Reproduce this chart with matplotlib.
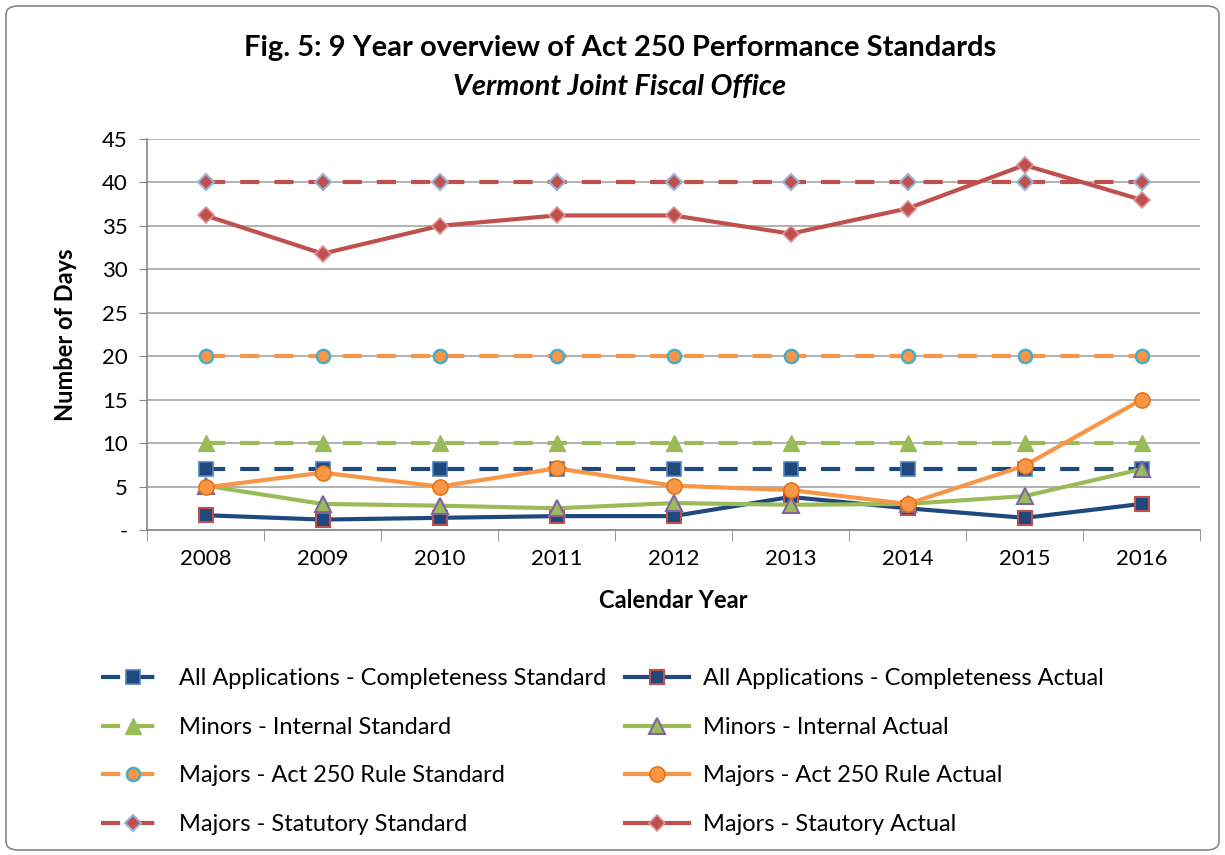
import numpy as np
import matplotlib.pyplot as plt
from matplotlib.patches import FancyBboxPatch
from matplotlib.ticker import FuncFormatter

plt.rcParams['font.family'] = ['Lato', 'DejaVu Sans']

years = ["2008", "2009", "2010", "2011", "2012", "2013", "2014", "2015", "2016"]

complete_std = [7, 7, 7, 7, 7, 7, 7, 7, 7]
complete_act = [1.7, 1.2, 1.4, 1.6, 1.6, 3.8, 2.5, 1.4, 3.0]
minors_std = [10, 10, 10, 10, 10, 10, 10, 10, 10]
minors_act = [5.1, 3.0, 2.8, 2.5, 3.1, 2.9, 3.0, 3.9, 7.0]
rule_std = [20, 20, 20, 20, 20, 20, 20, 20, 20]
rule_act = [4.9, 6.6, 5.0, 7.1, 5.1, 4.6, 3.0, 7.4, 15.0]
stat_std = [40, 40, 40, 40, 40, 40, 40, 40, 40]
stat_act = [36.2, 31.8, 35.0, 36.2, 36.2, 34.1, 37.0, 42.0, 38.0]

blue = "#1F497D"
green = "#9BBB59"
orange = "#F79646"
red = "#C0504D"

fig = plt.figure(figsize=(12.25, 8.55), dpi=100)
ax = fig.add_axes([147/1225, 1-530/855, (1200-147)/1225, (530-139)/855])

x = np.arange(len(years))
dash = (0, (4.6, 3.6))
lw = 3.0
ms = 9.5

h = {}
h['cs'], = ax.plot(x, complete_std, color=blue, lw=lw, ls=dash, marker='s', ms=ms,
                   mfc=blue, mec="#4F81BD", mew=1.2)
h['ms'], = ax.plot(x, minors_std, color=green, lw=lw, ls=dash, marker='^', ms=ms+1.5,
                   mfc=green, mec=green, mew=1.0)
h['rs'], = ax.plot(x, rule_std, color=orange, lw=lw, ls=dash, marker='o', ms=ms,
                   mfc=orange, mec="#4BACC6", mew=1.8)
h['ss'], = ax.plot(x, stat_std, color=red, lw=lw, ls=dash, marker='D', ms=ms-1.5,
                   mfc=red, mec="#95B3D7", mew=1.5)
h['ca'], = ax.plot(x, complete_act, color=blue, lw=lw, marker='s', ms=ms,
                   mfc=blue, mec=red, mew=1.5)
h['ma'], = ax.plot(x, minors_act, color=green, lw=lw, marker='^', ms=ms+1.5,
                   mfc=green, mec="#8064A2", mew=1.5)
h['ra'], = ax.plot(x, rule_act, color=orange, lw=lw, marker='o', ms=ms+1.5,
                   mfc=orange, mec="#E46C0A", mew=1.0)
h['sa'], = ax.plot(x, stat_act, color=red, lw=lw, marker='D', ms=ms-1.5,
                   mfc=red, mec="#D99694", mew=1.2)

ax.set_xlim(-0.5, len(years) - 0.5)
ax.set_ylim(0, 45)
ax.set_yticks(np.arange(0, 46, 5))
ax.yaxis.set_major_formatter(FuncFormatter(lambda v, p: "-" if v == 0 else "%d" % v))
ax.set_xticks(x)
ax.set_xticklabels(years)
ax.set_xticks(np.arange(-0.5, len(years)), minor=True)
ax.tick_params(axis='x', which='major', length=0, pad=14, labelsize=16)
ax.tick_params(axis='x', which='minor', length=8, color='#868686', direction='out')
ax.tick_params(axis='y', length=6, color='#868686', direction='out', labelsize=16, pad=8)
ax.grid(axis='y', color='#A6A6A6', lw=1.2)
ax.set_axisbelow(True)
for s in ['top', 'right']:
    ax.spines[s].set_visible(False)
ax.spines['left'].set_color('#868686')
ax.spines['bottom'].set_color('#868686')
ax.spines['left'].set_linewidth(1.2)
ax.spines['bottom'].set_linewidth(1.2)

ax.set_ylabel("Number of Days", fontsize=17, fontweight='bold', labelpad=18)
ax.set_xlabel("Calendar Year", fontsize=17, fontweight='bold', labelpad=14)

fig.text(0.506, 1-48/855, "Fig. 5: 9 Year overview of Act 250 Performance Standards",
         ha='center', va='center', fontsize=21, fontweight='bold')
fig.text(0.506, 1-87/855, "Vermont Joint Fiscal Office",
         ha='center', va='center', fontsize=21, fontweight='bold', style='italic')

handles = [h['cs'], h['ms'], h['rs'], h['ss'], h['ca'], h['ma'], h['ra'], h['sa']]
labels = ["All Applications - Completeness Standard", "Minors - Internal Standard",
          "Majors - Act 250 Rule Standard", "Majors - Statutory Standard",
          "All Applications - Completeness Actual", "Minors - Internal Actual",
          "Majors - Act 250 Rule Actual", "Majors - Stautory Actual"]
fig.legend(handles, labels, ncol=2, loc='upper left', bbox_to_anchor=(80/1225, 1-647/855),
           frameon=False, fontsize=17, handlelength=2.7, columnspacing=0.8,
           labelspacing=1.17, handletextpad=0.6)

fig.patches.append(FancyBboxPatch((6/1225, 5/855), 1-12/1225, 1-11/855,
                                  boxstyle="round,pad=0,rounding_size=0.01",
                                  transform=fig.transFigure, fill=False,
                                  ec='#868686', lw=1.2))

fig.savefig("out.png", dpi=100)
